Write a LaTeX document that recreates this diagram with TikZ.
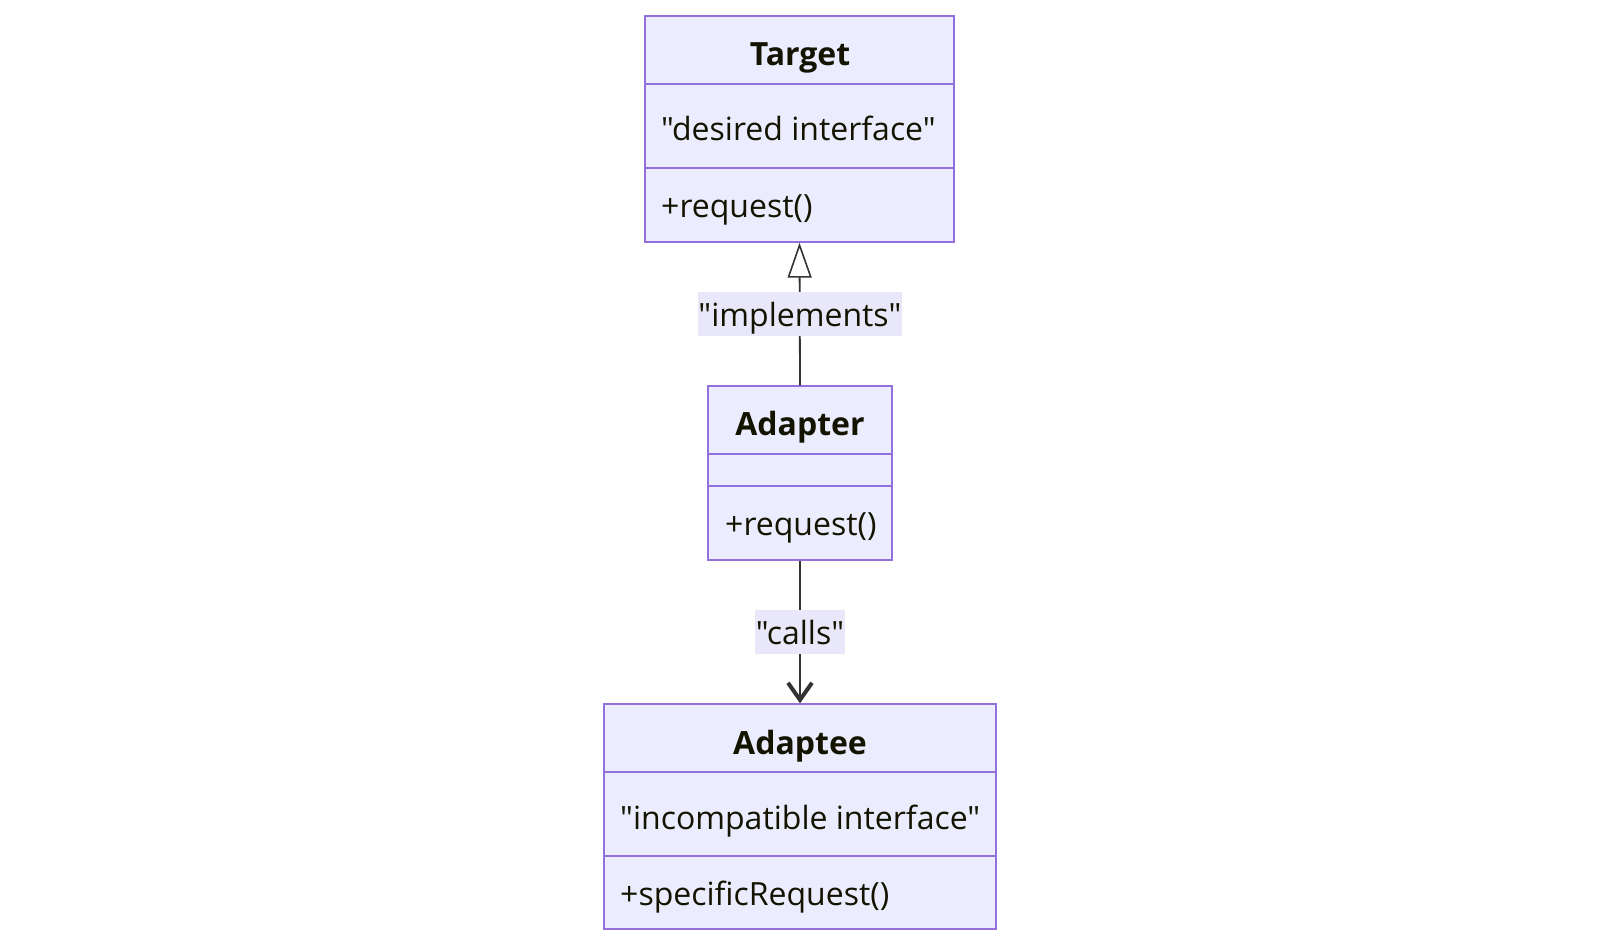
\documentclass[tikz,border=0pt]{standalone}
\usepackage{fontspec}
\setmainfont{Open Sans}[Ligatures=TeXOff]
\usetikzlibrary{arrows.meta}
\definecolor{boxfill}{HTML}{ECECFF}
\definecolor{boxline}{HTML}{9370DB}
\definecolor{txt}{HTML}{131300}
\definecolor{edge}{HTML}{333333}
\definecolor{lblbg}{HTML}{E8E8FA}
\tikzset{
  classbox/.style={draw=boxline, fill=boxfill, line width=1.4pt, inner sep=0pt},
  divider/.style={draw=boxline, line width=1.4pt},
  title/.style={text=txt, font=\fontsize{32}{38}\selectfont\bfseries, inner sep=0pt, text height=24pt, text depth=8pt},
  member/.style={text=txt, font=\fontsize{32}{38}\selectfont, inner sep=0pt, anchor=west, text height=24pt, text depth=8pt},
  conn/.style={draw=edge, line width=1.8pt},
  lbl/.style={fill=lblbg, text=txt, font=\fontsize{32}{38}\selectfont, inner sep=0pt, text height=28pt, text depth=4pt}
}
\begin{document}
\begin{tikzpicture}[x=1pt,y=-1pt]
\useasboundingbox (0,0) rectangle (1600,946);
% Target
\node[classbox, minimum width=309pt, minimum height=226pt] (target) at (799.5,129) {};
\draw[divider] (645,84) -- (954,84);
\draw[divider] (645,168) -- (954,168);
\node[title] (tt) at (800,57) {Target};
\node[member] (ta) at (661,132) {"desired interface"};
\node[member] (tm) at (661,209) {+request()};
% Adapter
\node[classbox, minimum width=184pt, minimum height=174pt] (adapter) at (800,473) {};
\draw[divider] (708,454) -- (892,454);
\draw[divider] (708,486) -- (892,486);
\node[title] (at) at (800,427) {Adapter};
\node[member] (am) at (725,527) {+request()};
% Adaptee
\node[classbox, minimum width=392pt, minimum height=225pt] (adaptee) at (800,816.5) {};
\draw[divider] (604,772) -- (996,772);
\draw[divider] (604,856) -- (996,856);
\node[title] (et) at (800,746) {Adaptee};
\node[member] (ea) at (620,821) {"incompatible interface"};
\node[member] (em) at (620,897) {+specificRequest()};
% connectors
\draw[conn, -{Triangle[open, length=35pt, width=24pt, line width=1.6pt]}] (adapter.north) -- (target.south);
\node[lbl, minimum width=203pt, minimum height=44pt] (l1) at (800,314) {"implements"};
\draw[conn, -{Straight Barb[length=17pt, width=24pt, line width=4pt]}] (adapter.south) -- (adaptee.north);
\node[lbl, minimum width=90pt, minimum height=44pt] (l2) at (800,632) {"calls"};
\end{tikzpicture}
\end{document}
